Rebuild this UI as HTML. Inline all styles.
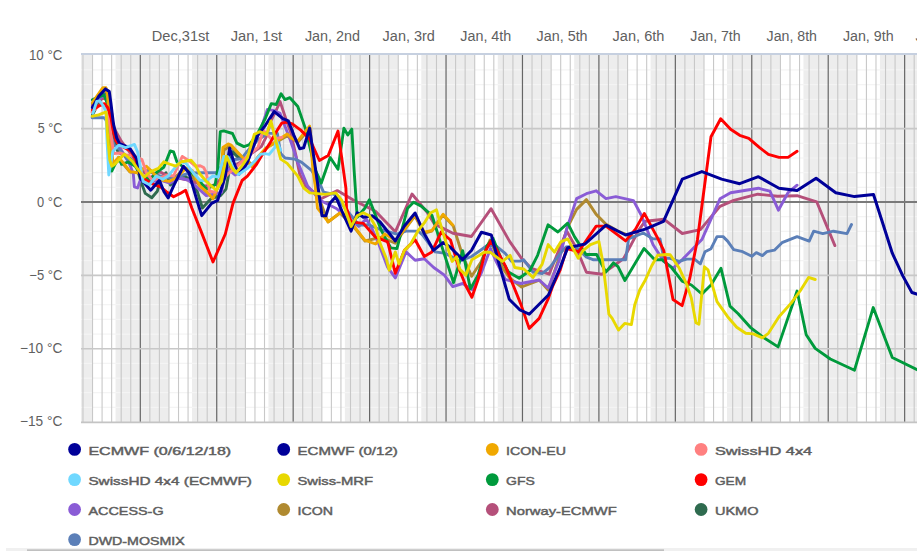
<!DOCTYPE html><html><head><meta charset="utf-8"><title>chart</title><style>html,body{margin:0;padding:0;background:#fff;width:917px;height:551px;overflow:hidden}svg{display:block;font-family:"Liberation Sans",sans-serif}</style></head><body>
<svg width="917" height="551" viewBox="0 0 917 551">
<defs><clipPath id="pc"><rect x="81" y="54" width="836" height="368.4"/></clipPath></defs>
<rect x="81" y="54" width="836" height="368.4" fill="#ededed"/>
<g clip-path="url(#pc)">
<rect x="16.08" y="54" width="23.05" height="368.4" fill="#fff"/>
<rect x="92.52" y="54" width="23.05" height="368.4" fill="#fff"/>
<rect x="168.95" y="54" width="23.05" height="368.4" fill="#fff"/>
<rect x="245.38" y="54" width="23.05" height="368.4" fill="#fff"/>
<rect x="321.82" y="54" width="23.05" height="368.4" fill="#fff"/>
<rect x="398.25" y="54" width="23.05" height="368.4" fill="#fff"/>
<rect x="474.69" y="54" width="23.05" height="368.4" fill="#fff"/>
<rect x="551.12" y="54" width="23.05" height="368.4" fill="#fff"/>
<rect x="627.55" y="54" width="23.05" height="368.4" fill="#fff"/>
<rect x="703.99" y="54" width="23.05" height="368.4" fill="#fff"/>
<rect x="780.42" y="54" width="23.05" height="368.4" fill="#fff"/>
<rect x="856.86" y="54" width="23.05" height="368.4" fill="#fff"/>
<rect x="933.29" y="54" width="23.05" height="368.4" fill="#fff"/>
<rect x="1009.72" y="54" width="23.05" height="368.4" fill="#fff"/>
<line x1="81" x2="917" y1="407.38" y2="407.38" stroke="#f4f4f4" stroke-width="1.2"/>
<line x1="81" x2="917" y1="392.71" y2="392.71" stroke="#f4f4f4" stroke-width="1.2"/>
<line x1="81" x2="917" y1="378.04" y2="378.04" stroke="#f4f4f4" stroke-width="1.2"/>
<line x1="81" x2="917" y1="363.37" y2="363.37" stroke="#f4f4f4" stroke-width="1.2"/>
<line x1="81" x2="917" y1="334.03" y2="334.03" stroke="#f4f4f4" stroke-width="1.2"/>
<line x1="81" x2="917" y1="319.36" y2="319.36" stroke="#f4f4f4" stroke-width="1.2"/>
<line x1="81" x2="917" y1="304.69" y2="304.69" stroke="#f4f4f4" stroke-width="1.2"/>
<line x1="81" x2="917" y1="290.02" y2="290.02" stroke="#f4f4f4" stroke-width="1.2"/>
<line x1="81" x2="917" y1="260.68" y2="260.68" stroke="#f4f4f4" stroke-width="1.2"/>
<line x1="81" x2="917" y1="246.01" y2="246.01" stroke="#f4f4f4" stroke-width="1.2"/>
<line x1="81" x2="917" y1="231.34" y2="231.34" stroke="#f4f4f4" stroke-width="1.2"/>
<line x1="81" x2="917" y1="216.67" y2="216.67" stroke="#f4f4f4" stroke-width="1.2"/>
<line x1="81" x2="917" y1="187.33" y2="187.33" stroke="#f4f4f4" stroke-width="1.2"/>
<line x1="81" x2="917" y1="172.66" y2="172.66" stroke="#f4f4f4" stroke-width="1.2"/>
<line x1="81" x2="917" y1="157.99" y2="157.99" stroke="#f4f4f4" stroke-width="1.2"/>
<line x1="81" x2="917" y1="143.32" y2="143.32" stroke="#f4f4f4" stroke-width="1.2"/>
<line x1="81" x2="917" y1="113.98" y2="113.98" stroke="#f4f4f4" stroke-width="1.2"/>
<line x1="81" x2="917" y1="99.31" y2="99.31" stroke="#f4f4f4" stroke-width="1.2"/>
<line x1="81" x2="917" y1="84.64" y2="84.64" stroke="#f4f4f4" stroke-width="1.2"/>
<line x1="81" x2="917" y1="69.97" y2="69.97" stroke="#f4f4f4" stroke-width="1.2"/>
<line x1="82.97" x2="82.97" y1="54" y2="422.4" stroke="#c8c8c8" stroke-width="1.1"/>
<line x1="92.53" x2="92.53" y1="54" y2="422.4" stroke="#c8c8c8" stroke-width="1.1"/>
<line x1="102.08" x2="102.08" y1="54" y2="422.4" stroke="#c8c8c8" stroke-width="1.1"/>
<line x1="111.64" x2="111.64" y1="54" y2="422.4" stroke="#c8c8c8" stroke-width="1.1"/>
<line x1="121.19" x2="121.19" y1="54" y2="422.4" stroke="#c8c8c8" stroke-width="1.1"/>
<line x1="130.75" x2="130.75" y1="54" y2="422.4" stroke="#c8c8c8" stroke-width="1.1"/>
<line x1="140.30" x2="140.30" y1="54" y2="422.4" stroke="#666" stroke-width="1.2"/>
<line x1="149.85" x2="149.85" y1="54" y2="422.4" stroke="#c8c8c8" stroke-width="1.1"/>
<line x1="159.41" x2="159.41" y1="54" y2="422.4" stroke="#c8c8c8" stroke-width="1.1"/>
<line x1="168.96" x2="168.96" y1="54" y2="422.4" stroke="#c8c8c8" stroke-width="1.1"/>
<line x1="178.52" x2="178.52" y1="54" y2="422.4" stroke="#c8c8c8" stroke-width="1.1"/>
<line x1="188.07" x2="188.07" y1="54" y2="422.4" stroke="#c8c8c8" stroke-width="1.1"/>
<line x1="197.63" x2="197.63" y1="54" y2="422.4" stroke="#c8c8c8" stroke-width="1.1"/>
<line x1="207.18" x2="207.18" y1="54" y2="422.4" stroke="#c8c8c8" stroke-width="1.1"/>
<line x1="216.73" x2="216.73" y1="54" y2="422.4" stroke="#666" stroke-width="1.2"/>
<line x1="226.29" x2="226.29" y1="54" y2="422.4" stroke="#c8c8c8" stroke-width="1.1"/>
<line x1="235.84" x2="235.84" y1="54" y2="422.4" stroke="#c8c8c8" stroke-width="1.1"/>
<line x1="245.40" x2="245.40" y1="54" y2="422.4" stroke="#c8c8c8" stroke-width="1.1"/>
<line x1="254.95" x2="254.95" y1="54" y2="422.4" stroke="#c8c8c8" stroke-width="1.1"/>
<line x1="264.51" x2="264.51" y1="54" y2="422.4" stroke="#c8c8c8" stroke-width="1.1"/>
<line x1="274.06" x2="274.06" y1="54" y2="422.4" stroke="#c8c8c8" stroke-width="1.1"/>
<line x1="283.61" x2="283.61" y1="54" y2="422.4" stroke="#c8c8c8" stroke-width="1.1"/>
<line x1="293.17" x2="293.17" y1="54" y2="422.4" stroke="#666" stroke-width="1.2"/>
<line x1="302.72" x2="302.72" y1="54" y2="422.4" stroke="#c8c8c8" stroke-width="1.1"/>
<line x1="312.28" x2="312.28" y1="54" y2="422.4" stroke="#c8c8c8" stroke-width="1.1"/>
<line x1="321.83" x2="321.83" y1="54" y2="422.4" stroke="#c8c8c8" stroke-width="1.1"/>
<line x1="331.38" x2="331.38" y1="54" y2="422.4" stroke="#c8c8c8" stroke-width="1.1"/>
<line x1="340.94" x2="340.94" y1="54" y2="422.4" stroke="#c8c8c8" stroke-width="1.1"/>
<line x1="350.49" x2="350.49" y1="54" y2="422.4" stroke="#c8c8c8" stroke-width="1.1"/>
<line x1="360.05" x2="360.05" y1="54" y2="422.4" stroke="#c8c8c8" stroke-width="1.1"/>
<line x1="369.60" x2="369.60" y1="54" y2="422.4" stroke="#666" stroke-width="1.2"/>
<line x1="379.16" x2="379.16" y1="54" y2="422.4" stroke="#c8c8c8" stroke-width="1.1"/>
<line x1="388.71" x2="388.71" y1="54" y2="422.4" stroke="#c8c8c8" stroke-width="1.1"/>
<line x1="398.26" x2="398.26" y1="54" y2="422.4" stroke="#c8c8c8" stroke-width="1.1"/>
<line x1="407.82" x2="407.82" y1="54" y2="422.4" stroke="#c8c8c8" stroke-width="1.1"/>
<line x1="417.37" x2="417.37" y1="54" y2="422.4" stroke="#c8c8c8" stroke-width="1.1"/>
<line x1="426.93" x2="426.93" y1="54" y2="422.4" stroke="#c8c8c8" stroke-width="1.1"/>
<line x1="436.48" x2="436.48" y1="54" y2="422.4" stroke="#c8c8c8" stroke-width="1.1"/>
<line x1="446.04" x2="446.04" y1="54" y2="422.4" stroke="#666" stroke-width="1.2"/>
<line x1="455.59" x2="455.59" y1="54" y2="422.4" stroke="#c8c8c8" stroke-width="1.1"/>
<line x1="465.14" x2="465.14" y1="54" y2="422.4" stroke="#c8c8c8" stroke-width="1.1"/>
<line x1="474.70" x2="474.70" y1="54" y2="422.4" stroke="#c8c8c8" stroke-width="1.1"/>
<line x1="484.25" x2="484.25" y1="54" y2="422.4" stroke="#c8c8c8" stroke-width="1.1"/>
<line x1="493.81" x2="493.81" y1="54" y2="422.4" stroke="#c8c8c8" stroke-width="1.1"/>
<line x1="503.36" x2="503.36" y1="54" y2="422.4" stroke="#c8c8c8" stroke-width="1.1"/>
<line x1="512.92" x2="512.92" y1="54" y2="422.4" stroke="#c8c8c8" stroke-width="1.1"/>
<line x1="522.47" x2="522.47" y1="54" y2="422.4" stroke="#666" stroke-width="1.2"/>
<line x1="532.02" x2="532.02" y1="54" y2="422.4" stroke="#c8c8c8" stroke-width="1.1"/>
<line x1="541.58" x2="541.58" y1="54" y2="422.4" stroke="#c8c8c8" stroke-width="1.1"/>
<line x1="551.13" x2="551.13" y1="54" y2="422.4" stroke="#c8c8c8" stroke-width="1.1"/>
<line x1="560.69" x2="560.69" y1="54" y2="422.4" stroke="#c8c8c8" stroke-width="1.1"/>
<line x1="570.24" x2="570.24" y1="54" y2="422.4" stroke="#c8c8c8" stroke-width="1.1"/>
<line x1="579.80" x2="579.80" y1="54" y2="422.4" stroke="#c8c8c8" stroke-width="1.1"/>
<line x1="589.35" x2="589.35" y1="54" y2="422.4" stroke="#c8c8c8" stroke-width="1.1"/>
<line x1="598.90" x2="598.90" y1="54" y2="422.4" stroke="#666" stroke-width="1.2"/>
<line x1="608.46" x2="608.46" y1="54" y2="422.4" stroke="#c8c8c8" stroke-width="1.1"/>
<line x1="618.01" x2="618.01" y1="54" y2="422.4" stroke="#c8c8c8" stroke-width="1.1"/>
<line x1="627.57" x2="627.57" y1="54" y2="422.4" stroke="#c8c8c8" stroke-width="1.1"/>
<line x1="637.12" x2="637.12" y1="54" y2="422.4" stroke="#c8c8c8" stroke-width="1.1"/>
<line x1="646.68" x2="646.68" y1="54" y2="422.4" stroke="#c8c8c8" stroke-width="1.1"/>
<line x1="656.23" x2="656.23" y1="54" y2="422.4" stroke="#c8c8c8" stroke-width="1.1"/>
<line x1="665.78" x2="665.78" y1="54" y2="422.4" stroke="#c8c8c8" stroke-width="1.1"/>
<line x1="675.34" x2="675.34" y1="54" y2="422.4" stroke="#666" stroke-width="1.2"/>
<line x1="684.89" x2="684.89" y1="54" y2="422.4" stroke="#c8c8c8" stroke-width="1.1"/>
<line x1="694.45" x2="694.45" y1="54" y2="422.4" stroke="#c8c8c8" stroke-width="1.1"/>
<line x1="704.00" x2="704.00" y1="54" y2="422.4" stroke="#c8c8c8" stroke-width="1.1"/>
<line x1="713.56" x2="713.56" y1="54" y2="422.4" stroke="#c8c8c8" stroke-width="1.1"/>
<line x1="723.11" x2="723.11" y1="54" y2="422.4" stroke="#c8c8c8" stroke-width="1.1"/>
<line x1="732.66" x2="732.66" y1="54" y2="422.4" stroke="#c8c8c8" stroke-width="1.1"/>
<line x1="742.22" x2="742.22" y1="54" y2="422.4" stroke="#c8c8c8" stroke-width="1.1"/>
<line x1="751.77" x2="751.77" y1="54" y2="422.4" stroke="#666" stroke-width="1.2"/>
<line x1="761.33" x2="761.33" y1="54" y2="422.4" stroke="#c8c8c8" stroke-width="1.1"/>
<line x1="770.88" x2="770.88" y1="54" y2="422.4" stroke="#c8c8c8" stroke-width="1.1"/>
<line x1="780.43" x2="780.43" y1="54" y2="422.4" stroke="#c8c8c8" stroke-width="1.1"/>
<line x1="789.99" x2="789.99" y1="54" y2="422.4" stroke="#c8c8c8" stroke-width="1.1"/>
<line x1="799.54" x2="799.54" y1="54" y2="422.4" stroke="#c8c8c8" stroke-width="1.1"/>
<line x1="809.10" x2="809.10" y1="54" y2="422.4" stroke="#c8c8c8" stroke-width="1.1"/>
<line x1="818.65" x2="818.65" y1="54" y2="422.4" stroke="#c8c8c8" stroke-width="1.1"/>
<line x1="828.21" x2="828.21" y1="54" y2="422.4" stroke="#666" stroke-width="1.2"/>
<line x1="837.76" x2="837.76" y1="54" y2="422.4" stroke="#c8c8c8" stroke-width="1.1"/>
<line x1="847.31" x2="847.31" y1="54" y2="422.4" stroke="#c8c8c8" stroke-width="1.1"/>
<line x1="856.87" x2="856.87" y1="54" y2="422.4" stroke="#c8c8c8" stroke-width="1.1"/>
<line x1="866.42" x2="866.42" y1="54" y2="422.4" stroke="#c8c8c8" stroke-width="1.1"/>
<line x1="875.98" x2="875.98" y1="54" y2="422.4" stroke="#c8c8c8" stroke-width="1.1"/>
<line x1="885.53" x2="885.53" y1="54" y2="422.4" stroke="#c8c8c8" stroke-width="1.1"/>
<line x1="895.09" x2="895.09" y1="54" y2="422.4" stroke="#c8c8c8" stroke-width="1.1"/>
<line x1="904.64" x2="904.64" y1="54" y2="422.4" stroke="#666" stroke-width="1.2"/>
<line x1="914.19" x2="914.19" y1="54" y2="422.4" stroke="#c8c8c8" stroke-width="1.1"/>
<line x1="81" x2="917" y1="128.65" y2="128.65" stroke="#c8c8c8" stroke-width="1.6"/>
<line x1="81" x2="917" y1="275.35" y2="275.35" stroke="#c8c8c8" stroke-width="1.6"/>
<line x1="81" x2="917" y1="348.70" y2="348.70" stroke="#c8c8c8" stroke-width="1.6"/>
<line x1="81" x2="917" y1="202" y2="202" stroke="#7a7a7a" stroke-width="2"/>
</g>
<line x1="81" x2="917" y1="53.9" y2="53.9" stroke="#c6d0e0" stroke-width="2"/>
<line x1="81" x2="917" y1="422.4" y2="422.4" stroke="#c4c4c4" stroke-width="1.6"/>
<g clip-path="url(#pc)" fill="none" stroke-linejoin="round" stroke-linecap="round">
<path d="M92.4,104.0 L103.0,90.0 L106.0,90.0 L110.0,135.0 L113.0,164.0 L120.0,160.0 L130.0,172.0 L140.0,173.0 L150.0,170.0 L162.0,180.0 L170.0,182.0 L185.0,168.0 L200.0,186.0 L213.0,198.0 L221.0,180.0 L224.0,150.0 L230.0,146.0 L242.0,157.0 L254.0,166.0 L266.0,148.0 L287.0,136.0 L298.0,142.0 L310.0,128.0 L316.0,190.0 L328.0,222.0 L340.0,213.0 L354.0,227.0 L365.0,241.0 L381.6,237.2 L395.3,243.3 L404.5,230.0 L415.0,216.0 L424.0,233.0 L432.0,231.0 L443.0,215.0 L453.3,226.0 L462.4,255.0 L471.6,276.3 L481.0,262.0 L490.0,240.0 L502.1,267.2 L509.8,278.2 L521.6,287.0 L539.3,280.1 L548.2,290.0 L558.9,258.5 L566.7,229.1 L576.6,209.4 L586.4,199.6 L596.2,214.4 L606.0,224.2 L617.8,231.0 L629.6,235.9 L633.5,236.9" stroke="#b08a30" stroke-width="2.9"/>
<path d="M92.4,115.0 L98.0,104.0 L104.4,93.8 L108.0,100.0 L111.0,118.0 L114.0,140.0 L118.0,152.0 L125.0,156.0 L130.0,158.5 L136.0,165.0 L140.9,181.4 L145.3,193.4 L151.8,197.8 L157.3,191.3 L160.5,179.3 L166.0,172.7 L170.4,185.1 L175.8,179.3 L184.5,176.0 L192.2,181.4 L197.6,192.3 L202.4,208.0 L210.7,198.9 L220.5,195.6 L226.0,189.1 L228.2,177.1 L232.5,151.8 L236.9,156.2 L242.1,159.7" stroke="#2f6b4f" stroke-width="2.9"/>
<path d="M92.4,106.0 L100.0,100.0 L105.0,97.0 L110.0,110.0 L114.0,128.0 L117.7,134.8 L121.6,141.7 L128.0,150.0 L135.0,160.0 L142.0,170.0 L150.0,178.0 L159.4,171.6 L168.0,176.0 L178.0,178.0 L188.0,180.0 L195.4,182.5 L205.0,186.0 L211.8,185.8 L217.2,183.6 L225.0,172.0 L235.0,165.0 L245.0,160.0 L252.0,153.0 L261.3,146.6 L266.6,136.1 L270.9,120.9 L276.3,110.0 L280.1,101.6 L286.0,119.3 L290.5,131.8 L296.0,155.8 L299.7,174.2 L305.6,186.0 L312.9,191.4 L320.5,199.0 L337.3,190.6 L354.1,200.5 L375.5,211.2 L395.3,231.8 L412.0,194.0 L427.4,212.7 L434.4,224.0 L443.1,228.4 L452.9,233.3 L471.4,236.5 L491.1,208.7 L509.6,241.4 L521.6,258.5 L531.4,268.3 L549.1,274.2 L566.7,231.0 L576.6,248.7 L586.4,272.3 L602.1,274.2 L623.7,258.5 L639.4,229.1 L645.3,221.2 L664.2,219.3 L682.3,233.5 L700.4,229.6 L720.0,206.3 L733.7,200.3 L757.8,194.2 L777.5,196.3 L797.1,195.7 L816.7,201.8 L834.9,245.6" stroke="#b5507a" stroke-width="2.9"/>
<path d="M92.4,108.0 L98.0,100.0 L104.0,95.0 L108.0,100.0 L111.0,112.0 L115.0,135.0 L120.0,148.0 L127.5,160.3 L130.4,166.2 L133.3,173.8 L134.4,186.9 L137.6,188.0 L139.8,181.4 L143.0,176.0 L150.0,182.0 L160.0,180.0 L170.0,183.0 L180.0,178.0 L188.0,180.0 L195.4,185.8 L206.3,195.6 L215.0,194.0 L221.6,192.3 L226.0,167.3 L235.0,175.0 L245.0,168.0 L252.0,150.0 L261.5,127.1 L267.4,109.4 L273.2,110.4 L280.1,113.4 L289.9,138.9 L297.8,162.4 L307.6,186.0 L320.5,200.5 L335.8,208.2 L345.0,215.0 L358.7,226.5 L366.3,218.9 L372.4,229.5 L378.5,243.3 L387.6,267.2 L395.3,277.9 L406.0,251.9 L415.1,260.3 L424.3,258.8 L433.7,267.5 L444.4,275.1 L452.8,286.6 L462.7,283.5 L471.9,289.6 L481.1,273.6 L490.5,248.5 L496.0,261.1 L505.2,279.4 L511.6,281.2 L520.8,283.5 L539.2,280.0 L548.2,288.0 L559.0,261.0 L566.7,229.1 L576.6,198.6 L586.4,193.7 L596.2,190.8 L606.0,198.6 L615.8,196.7 L633.5,200.6 L641.3,215.3 L653.1,244.8 L663.8,261.4 L673.0,268.2 L682.1,259.8 L701.9,239.6 L720.0,198.8 L730.6,192.7 L758.4,188.2 L769.9,191.2 L778.4,210.2 L788.0,192.7 L797.1,185.2" stroke="#8a5cd6" stroke-width="2.9"/>
<path d="M92.1,117.8 L104.1,117.8 L106.0,120.0 L110.0,132.0 L114.0,145.0 L120.0,150.0 L130.0,162.9 L140.0,168.0 L150.0,172.0 L160.0,176.0 L170.0,178.0 L180.0,176.0 L190.0,173.0 L203.7,172.8 L216.0,172.8 L221.2,166.6 L230.0,160.0 L241.2,158.8 L250.0,148.0 L258.0,140.0 L267.6,133.4 L277.4,133.4 L280.7,153.6 L285.1,158.0 L294.9,159.1 L301.7,162.4 L311.5,170.3 L320.5,185.3 L323.6,192.1 L334.3,194.4 L345.0,208.2 L352.6,217.3 L358.7,225.0 L369.4,225.0 L380.1,229.5 L396.9,234.1 L406.0,231.1 L418.2,231.1 L422.7,235.1 L435.0,251.9 L445.6,253.4 L459.4,261.1 L471.6,256.5 L486.9,245.8 L496.0,245.8 L505.2,253.4 L511.3,261.1 L520.0,261.1 L523.8,259.8 L533.0,272.1 L542.1,273.6 L549.8,267.5 L560.0,253.7 L566.1,246.9 L575.3,246.1 L586.0,256.8 L593.6,259.8 L625.6,259.8 L628.6,238.9 L643.3,233.0 L653.1,238.9 L660.0,238.9 L663.8,258.3 L669.9,258.3 L679.1,261.4 L686.7,259.1 L694.4,259.1 L700.4,263.8 L705.0,251.7 L711.0,248.7 L717.0,236.6 L723.1,236.6 L727.6,241.1 L733.7,249.6 L742.7,251.7 L751.8,256.3 L756.3,252.6 L762.4,255.6 L766.9,251.7 L774.4,250.2 L782.0,242.7 L797.1,236.6 L809.2,241.1 L813.7,231.2 L822.8,233.6 L833.4,231.2 L847.0,233.6 L851.5,224.5" stroke="#5b7fb8" stroke-width="2.9"/>
<path d="M92.4,99.8 L98.0,97.0 L104.0,95.0 L108.0,105.0 L110.0,140.0 L111.8,171.1 L113.7,167.2 L118.6,157.4 L121.6,164.3 L128.0,162.0 L135.0,166.0 L142.0,176.0 L150.0,180.0 L157.0,172.0 L163.8,167.3 L170.3,150.9 L173.6,152.0 L176.9,161.8 L184.5,168.0 L191.0,172.0 L199.8,181.4 L206.3,189.1 L215.1,184.7 L217.7,170.1 L220.3,131.7 L223.8,130.9 L232.5,133.5 L236.9,143.1 L243.9,146.6 L249.1,144.8 L256.7,135.1 L265.4,118.3 L271.3,103.6 L276.2,104.5 L281.1,93.7 L285.0,99.6 L289.9,97.7 L297.8,106.5 L305.6,129.1 L315.5,170.3 L321.3,183.1 L330.2,157.5 L338.0,169.3 L343.9,128.1 L347.8,135.0 L351.8,129.1 L354.1,170.0 L357.2,217.3 L364.8,208.2 L369.4,199.8 L372.4,207.4 L381.6,231.1 L390.8,247.9 L396.9,248.6 L407.6,208.2 L413.6,202.3 L421.2,206.1 L431.9,215.3 L442.6,248.9 L453.6,282.7 L462.7,250.7 L470.4,288.9 L478.0,275.1 L486.9,245.8 L493.0,238.2 L502.1,261.1 L508.5,272.1 L519.2,278.2 L529.9,270.5 L537.6,255.3 L548.1,224.8 L557.9,232.0 L567.7,223.2 L574.6,236.9 L586.0,254.5 L596.6,254.5 L605.8,272.1 L613.4,262.9 L618.0,266.7 L624.9,280.5 L644.0,248.4 L654.7,259.8 L662.3,259.8 L671.5,267.5 L682.1,281.2 L691.4,285.0 L701.9,294.0 L711.0,285.0 L721.0,268.3 L730.0,306.1 L738.2,313.7 L750.3,327.3 L763.9,337.8 L778.1,346.9 L797.1,291.0 L806.2,334.8 L815.2,348.4 L830.3,359.0 L854.5,370.2 L873.2,307.6 L892.3,357.5 L920.0,371.0" stroke="#009a3c" stroke-width="2.9"/>
<path d="M92.4,102.5 L102.7,87.8 L106.0,87.8 L107.5,95.0 L109.0,115.0 L110.0,133.0 L112.8,163.3 L118.6,157.4 L124.5,164.3 L130.0,171.6 L138.7,172.7 L146.4,166.2 L154.0,173.8 L162.7,180.3 L169.3,181.4 L176.0,178.0 L182.3,172.0 L186.7,168.0 L192.2,170.5 L199.8,185.8 L207.4,192.3 L212.9,198.9 L220.5,181.4 L222.9,147.5 L228.2,144.0 L230.8,144.8 L242.1,157.0 L247.4,161.4 L251.7,166.6 L257.8,157.0 L264.8,149.2 L275.0,142.2 L287.2,134.0 L291.6,138.4 L297.8,140.9 L309.6,126.1 L312.9,170.0 L315.2,185.3 L317.5,208.2 L328.2,221.9 L340.4,212.7 L348.0,215.8 L354.1,226.5 L364.8,240.2 L375.5,244.0 L384.7,234.1 L395.3,240.2 L404.5,229.5 L415.0,215.0 L424.3,232.1 L431.9,230.5 L443.1,214.2 L452.9,225.1" stroke="#f0a800" stroke-width="2.9"/>
<path d="M92.0,112.0 L100.7,104.5 L104.4,105.3 L108.0,112.0 L111.0,135.0 L113.7,153.5 L120.0,153.0 L126.0,155.0 L133.4,155.4 L142.0,159.6 L146.4,172.7 L152.0,180.0 L160.0,178.0 L167.0,175.0 L173.6,176.0 L182.3,156.4 L188.9,160.7 L195.4,166.2 L200.2,165.8 L203.7,167.5 L206.3,172.7 L209.6,191.3 L215.1,192.3 L222.0,180.0 L230.0,172.0 L236.0,167.5 L247.4,156.2 L257.8,147.5 L261.3,137.0 L262.7,129.6 L270.9,138.4 L276.3,138.4 L281.8,137.3" stroke="#ff8080" stroke-width="2.9"/>
<path d="M92.4,110.0 L98.9,105.8 L104.4,103.6 L108.0,108.0 L111.0,118.0 L113.5,132.0 L116.0,141.0 L119.0,145.0 L125.0,148.0 L131.0,151.0 L136.0,160.0 L141.0,177.0 L151.8,183.6 L160.5,186.9 L167.1,192.3 L173.6,196.7 L180.2,193.4 L185.6,190.2 L191.8,208.0 L200.9,230.9 L213.0,262.0 L225.3,234.0 L233.0,203.4 L242.1,180.5 L247.4,176.2 L256.1,164.9 L261.3,156.2 L270.0,143.1 L276.3,131.8 L281.8,123.1 L287.2,122.0 L292.7,124.2 L300.7,130.1 L309.6,138.9 L319.4,160.5 L328.2,155.6 L338.0,131.0 L345.9,188.0 L346.5,208.2 L351.1,221.9 L363.3,223.4 L375.5,237.2 L387.7,241.8 L395.3,273.3 L404.4,250.4 L415.1,239.7 L424.3,256.5 L431.9,251.9 L441.1,232.1 L450.5,240.0 L459.7,270.5 L465.8,285.8 L471.9,297.3 L478.0,279.7 L485.6,250.7 L490.8,241.3 L496.3,249.2 L505.2,265.6 L511.6,281.2 L520.8,304.1 L529.2,328.4 L539.2,318.4 L548.4,298.3 L552.8,285.8 L560.0,270.5 L566.7,248.7 L578.5,251.7 L596.2,226.1 L606.0,226.1 L625.6,240.9 L635.5,229.1 L644.3,213.4 L657.0,236.9 L663.8,250.7 L673.0,299.5 L682.1,305.6 L689.8,278.2 L697.4,240.0 L711.0,136.8 L720.7,118.7 L730.6,129.3 L739.7,135.3 L748.8,138.3 L759.3,147.4 L768.4,154.4 L779.0,157.4 L788.0,157.4 L797.1,151.3" stroke="#ff0000" stroke-width="2.9"/>
<path d="M92.4,107.4 L98.9,96.0 L105.4,88.9 L109.3,91.6 L110.9,103.1 L113.5,124.2 L116.7,137.8 L119.6,143.6 L125.5,146.1 L130.0,148.7 L136.5,158.5 L140.9,179.3 L150.7,190.2 L159.4,180.3 L163.8,191.3 L168.2,197.8 L173.6,185.8 L183.4,166.2 L188.9,172.7 L196.5,198.9 L201.7,215.6 L211.6,203.4 L217.7,200.4 L225.3,176.0 L229.6,148.2 L234.9,165.6 L238.9,174.3 L246.9,163.4 L257.8,135.1 L265.4,125.3 L274.2,111.6 L282.9,118.7 L288.3,120.9 L293.8,135.1 L299.7,148.7 L303.7,147.7 L309.6,128.1 L317.4,182.1 L322.0,215.8 L325.9,215.8 L329.7,203.6 L335.8,196.7 L341.9,211.2 L351.1,231.1 L357.2,212.7 L363.3,217.3 L372.4,215.8 L380.1,222.0 L395.3,241.0 L404.4,226.0 L415.1,213.0 L424.3,233.6 L433.5,250.3 L443.0,242.6 L450.0,247.0 L462.6,259.6 L471.6,250.3 L481.4,232.2 L491.3,235.0 L499.1,264.1 L509.2,299.2 L520.0,310.0 L529.2,314.2 L548.4,295.0 L560.0,268.0 L567.7,247.7 L575.3,246.1 L585.0,244.0 L606.0,225.2 L625.6,235.0 L645.3,229.1 L663.5,221.3 L682.3,179.1 L701.9,171.6 L721.6,179.1 L739.7,183.7 L758.4,176.7 L779.0,188.2 L797.1,190.6 L816.1,178.2 L835.8,192.7 L854.5,196.6 L873.5,194.5 L881.7,220.0 L892.3,253.2 L902.8,275.9 L911.9,292.5 L920.0,295.0" stroke="#000099" stroke-width="3.0"/>
<path d="M92.9,113.4 L96.7,101.4 L99.5,100.9 L103.3,105.8 L106.0,112.4 L107.0,140.0 L108.8,175.0 L112.8,151.5 L118.6,145.1 L125.5,147.6 L134.4,144.4 L137.6,152.0 L143.1,181.4 L149.6,184.7 L156.2,176.0 L162.7,179.3 L168.2,176.0 L173.6,169.4 L180.2,161.8 L185.6,162.9 L193.2,172.7 L199.8,180.3 L206.3,180.9 L212.9,176.0 L218.3,177.1 L223.8,156.4 L228.2,157.0 L234.3,170.1 L238.6,174.5 L247.4,168.4 L256.1,159.7 L260.4,154.4 L264.8,153.6 L269.2,154.4 L275.2,147.1 L276.3,140.5 L280.7,150.3" stroke="#70d8ff" stroke-width="2.9"/>
<path d="M92.1,116.3 L98.7,114.8 L106.1,111.9 L107.5,135.0 L109.8,160.0 L111.8,166.2 L114.7,164.3 L124.5,154.0 L132.4,161.3 L136.5,167.3 L144.2,177.1 L150.7,171.6 L158.4,168.4 L163.8,161.8 L169.3,164.0 L175.8,166.2 L181.3,161.8 L191.1,160.2 L195.4,165.1 L199.8,173.8 L207.4,182.5 L216.2,190.2 L221.6,181.4 L226.4,156.2 L231.6,167.5 L236.0,172.8 L242.1,165.8 L247.4,157.9 L254.3,134.4 L259.6,131.7 L266.6,134.4 L270.9,120.9 L276.3,142.7 L280.7,159.1 L287.2,163.4 L297.8,176.2 L303.7,188.0 L309.8,192.9 L325.1,194.4 L335.8,192.9 L341.9,200.5 L347.3,215.8 L351.1,226.5 L357.2,215.8 L363.3,212.7 L369.4,215.8 L375.5,226.5 L380.1,243.3 L386.1,258.0 L389.2,270.2 L395.3,251.9 L399.1,264.1 L404.4,250.4 L410.5,244.3 L418.2,230.5 L424.3,222.9 L430.4,213.0 L436.5,209.8 L439.8,221.8 L445.6,241.2 L452.1,261.4 L456.6,256.8 L459.7,269.0 L465.8,275.1 L471.9,259.8 L479.5,255.3 L484.1,252.2 L490.2,252.2 L496.3,256.8 L502.4,261.4 L510.1,255.3 L514.7,267.5 L523.8,269.0 L533.0,277.4 L542.1,264.4 L548.2,244.6 L554.4,252.2 L560.9,241.8 L567.7,238.9 L578.3,258.3 L582.9,250.7 L590.5,244.6 L598.9,241.5 L602.7,261.4 L605.9,288.0 L608.9,314.2 L612.2,318.4 L618.5,330.1 L624.7,323.4 L631.4,324.6 L634.7,305.0 L639.7,290.0 L645.5,279.7 L651.6,266.0 L657.7,255.3 L666.9,254.5 L670.2,254.7 L679.3,268.3 L686.7,284.3 L691.3,298.0 L695.9,322.7 L698.9,324.2 L704.4,266.8 L708.0,269.8 L717.0,301.6 L727.6,316.7 L736.7,327.3 L745.7,333.3 L753.3,333.9 L762.4,337.8 L768.4,333.3 L779.0,316.7 L791.1,303.1 L800.1,291.0 L808.6,277.4 L815.2,279.5" stroke="#e8d800" stroke-width="2.9"/>
</g>
<text x="29.0" y="59.8" font-size="14" fill="#606060" textLength="33.3" lengthAdjust="spacingAndGlyphs">10 °C</text>
<text x="37.8" y="133.0" font-size="14" fill="#606060" textLength="24.5" lengthAdjust="spacingAndGlyphs">5 °C</text>
<text x="37.1" y="206.7" font-size="14" fill="#606060" textLength="25.2" lengthAdjust="spacingAndGlyphs">0 °C</text>
<text x="29.3" y="279.9" font-size="14" fill="#606060" textLength="33.0" lengthAdjust="spacingAndGlyphs">−5 °C</text>
<text x="20.0" y="353.1" font-size="14" fill="#606060" textLength="42.3" lengthAdjust="spacingAndGlyphs">−10 °C</text>
<text x="20.0" y="426.3" font-size="14" fill="#606060" textLength="42.3" lengthAdjust="spacingAndGlyphs">−15 °C</text>
<text x="151.8" y="41.1" font-size="14" fill="#606060" textLength="57.6" lengthAdjust="spacingAndGlyphs">Dec,31st</text>
<text x="230.7" y="41.1" font-size="14" fill="#606060" textLength="51.5" lengthAdjust="spacingAndGlyphs">Jan, 1st</text>
<text x="304.9" y="41.1" font-size="14" fill="#606060" textLength="55.2" lengthAdjust="spacingAndGlyphs">Jan, 2nd</text>
<text x="382.6" y="41.1" font-size="14" fill="#606060" textLength="52.3" lengthAdjust="spacingAndGlyphs">Jan, 3rd</text>
<text x="460.3" y="41.1" font-size="14" fill="#606060" textLength="51.0" lengthAdjust="spacingAndGlyphs">Jan, 4th</text>
<text x="536.6" y="41.1" font-size="14" fill="#606060" textLength="51.0" lengthAdjust="spacingAndGlyphs">Jan, 5th</text>
<text x="612.6" y="41.1" font-size="14" fill="#606060" textLength="51.8" lengthAdjust="spacingAndGlyphs">Jan, 6th</text>
<text x="690.3" y="41.1" font-size="14" fill="#606060" textLength="50.4" lengthAdjust="spacingAndGlyphs">Jan, 7th</text>
<text x="766.6" y="41.1" font-size="14" fill="#606060" textLength="50.4" lengthAdjust="spacingAndGlyphs">Jan, 8th</text>
<text x="842.9" y="41.1" font-size="14" fill="#606060" textLength="50.7" lengthAdjust="spacingAndGlyphs">Jan, 9th</text>
<text x="915.6" y="41.1" font-size="14" fill="#606060" textLength="58" lengthAdjust="spacingAndGlyphs">Jan, 10th</text>
<circle cx="74.6" cy="449.4" r="6.4" fill="#000099"/>
<text x="88.4" y="454.5" font-size="11.8" fill="#5e5e5e" stroke="#5e5e5e" stroke-width="0.45" textLength="142.8" lengthAdjust="spacingAndGlyphs">ECMWF (0/6/12/18)</text>
<circle cx="283.7" cy="449.4" r="6.4" fill="#000099"/>
<text x="297.5" y="454.5" font-size="11.8" fill="#5e5e5e" stroke="#5e5e5e" stroke-width="0.45" textLength="100.3" lengthAdjust="spacingAndGlyphs">ECMWF (0/12)</text>
<circle cx="492.3" cy="449.4" r="6.4" fill="#f0a800"/>
<text x="506.1" y="454.5" font-size="11.8" fill="#5e5e5e" stroke="#5e5e5e" stroke-width="0.45" textLength="59.8" lengthAdjust="spacingAndGlyphs">ICON-EU</text>
<circle cx="701.1" cy="449.4" r="6.4" fill="#ff8080"/>
<text x="714.9" y="454.5" font-size="11.8" fill="#5e5e5e" stroke="#5e5e5e" stroke-width="0.45" textLength="97.3" lengthAdjust="spacingAndGlyphs">SwissHD 4x4</text>
<circle cx="74.6" cy="479.6" r="6.4" fill="#70d8ff"/>
<text x="88.4" y="484.7" font-size="11.8" fill="#5e5e5e" stroke="#5e5e5e" stroke-width="0.45" textLength="163.5" lengthAdjust="spacingAndGlyphs">SwissHD 4x4 (ECMWF)</text>
<circle cx="283.7" cy="479.6" r="6.4" fill="#e8d800"/>
<text x="297.5" y="484.7" font-size="11.8" fill="#5e5e5e" stroke="#5e5e5e" stroke-width="0.45" textLength="75.6" lengthAdjust="spacingAndGlyphs">Swiss-MRF</text>
<circle cx="492.3" cy="479.6" r="6.4" fill="#009a3c"/>
<text x="506.1" y="484.7" font-size="11.8" fill="#5e5e5e" stroke="#5e5e5e" stroke-width="0.45" textLength="28.8" lengthAdjust="spacingAndGlyphs">GFS</text>
<circle cx="701.1" cy="479.6" r="6.4" fill="#ff0000"/>
<text x="714.9" y="484.7" font-size="11.8" fill="#5e5e5e" stroke="#5e5e5e" stroke-width="0.45" textLength="31.2" lengthAdjust="spacingAndGlyphs">GEM</text>
<circle cx="74.6" cy="509.5" r="6.4" fill="#8a5cd6"/>
<text x="88.4" y="514.6" font-size="11.8" fill="#5e5e5e" stroke="#5e5e5e" stroke-width="0.45" textLength="75.2" lengthAdjust="spacingAndGlyphs">ACCESS-G</text>
<circle cx="283.7" cy="509.5" r="6.4" fill="#b08a30"/>
<text x="297.5" y="514.6" font-size="11.8" fill="#5e5e5e" stroke="#5e5e5e" stroke-width="0.45" textLength="35.5" lengthAdjust="spacingAndGlyphs">ICON</text>
<circle cx="492.3" cy="509.5" r="6.4" fill="#b5507a"/>
<text x="506.1" y="514.6" font-size="11.8" fill="#5e5e5e" stroke="#5e5e5e" stroke-width="0.45" textLength="110.6" lengthAdjust="spacingAndGlyphs">Norway-ECMWF</text>
<circle cx="701.1" cy="509.5" r="6.4" fill="#2f6b4f"/>
<text x="714.9" y="514.6" font-size="11.8" fill="#5e5e5e" stroke="#5e5e5e" stroke-width="0.45" textLength="43.6" lengthAdjust="spacingAndGlyphs">UKMO</text>
<circle cx="74.6" cy="539.6" r="6.4" fill="#5b7fb8"/>
<text x="88.4" y="544.7" font-size="11.8" fill="#5e5e5e" stroke="#5e5e5e" stroke-width="0.45" textLength="96.4" lengthAdjust="spacingAndGlyphs">DWD-MOSMIX</text>
<rect x="6" y="548" width="911" height="3" fill="#f0f0f0"/>
<rect x="27" y="549.3" width="637" height="1.7" fill="#c0c0c0"/>
</svg></body></html>
